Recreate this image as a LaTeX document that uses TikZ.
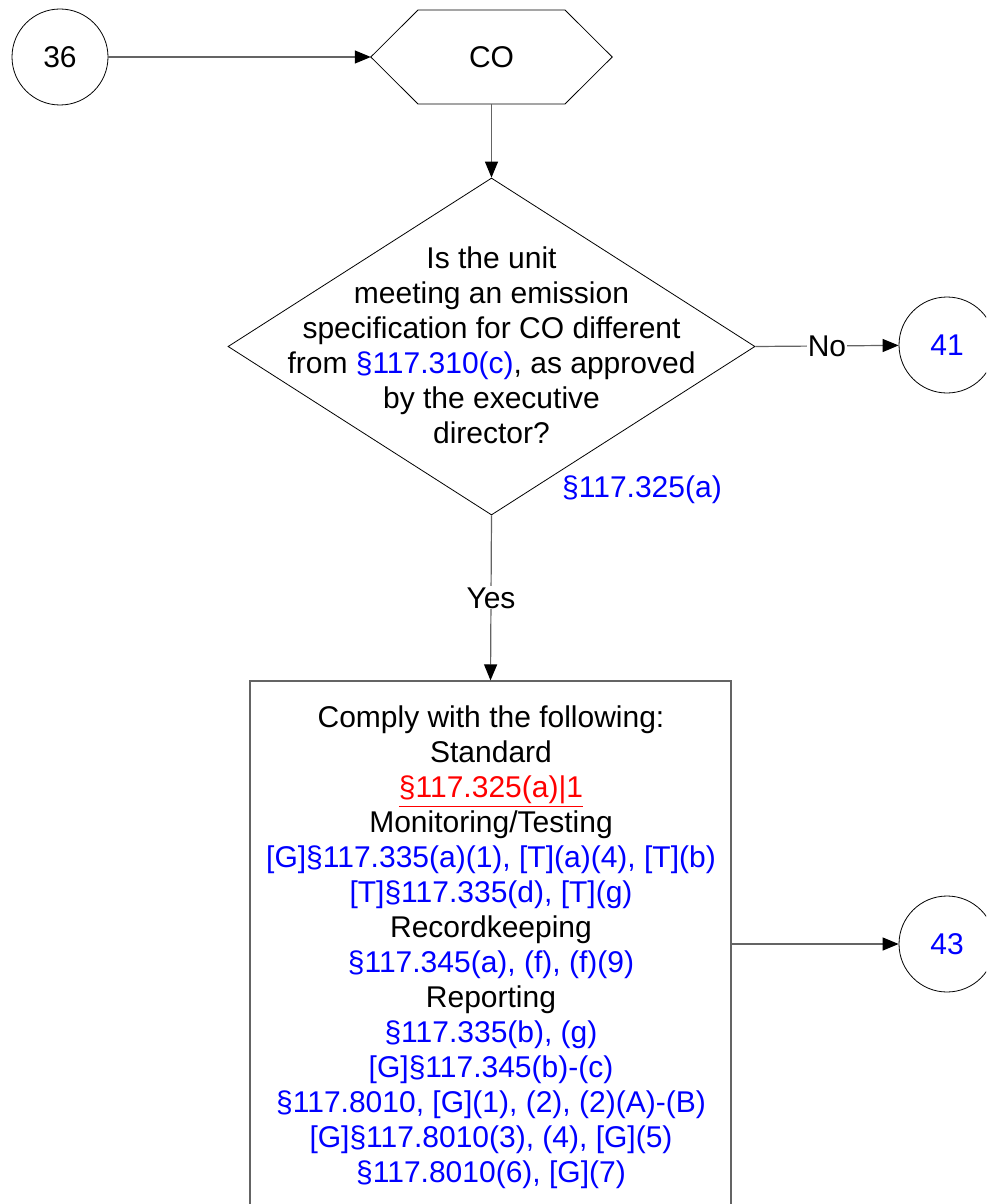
\documentclass[tikz,border=0pt]{standalone}
\usepackage{fontspec}
\setmainfont{Liberation Sans}
\usetikzlibrary{arrows.meta,shapes.geometric}
\definecolor{refblue}{RGB}{0,0,255}
\definecolor{refred}{RGB}{255,0,0}
\definecolor{linegray}{RGB}{100,100,100}
\newcommand{\redul}[1]{{\color{refred}\vtop{\hbox{#1}\kern2pt\hrule height 1.5pt}}}
\begin{document}
\begin{tikzpicture}[x=1pt,y=-1pt,
  every node/.style={font=\fontsize{30}{35}\selectfont, inner sep=0pt},
  conn/.style={draw=linegray, line width=1.2pt},
  arr/.style={conn, -{Triangle[length=16pt,width=13pt,color=black,fill=black]}},
  circ/.style={circle, draw=black, line width=0.8pt, minimum size=96pt},
  blu/.style={text=refblue},
  lbl/.style={fill=white, inner sep=1pt}]
\clip (0,0) rectangle (986,1204);
\fill[white] (0,0) rectangle (986,1204);

% nodes
\node[circ] (c36) at (60,57) {36};
\node[minimum width=241pt, minimum height=94pt] (co) at (491.5,57) {CO};
\draw[line width=0.8pt] (co.west) -- (418,10) -- (565,10) -- (co.east) -- (565,104) -- (418,104) -- cycle;

\node[diamond, draw=black, line width=0.8pt, minimum width=527pt, minimum height=337pt, aspect=1.56] (dec) at (491.5,346.5) {};
\node[align=center] (dtext) at (491.5,345) {Is the unit\\meeting an emission\\specification for CO different\\from \textcolor{refblue}{§117.310(c)}, as approved\\by the executive\\director?};
\node[blu] (ref) at (642,490) {§117.325(a)};

\node[circ, blu] (c41) at (947,345) {41};

\node[draw=linegray, line width=1.2pt, minimum width=481pt, minimum height=560pt] (box) at (490.5,961) {};
\node[align=center] (btext) at (491,947) {Comply with the following:\\Standard\\\redul{§117.325(a)|1}\\Monitoring/Testing\\\textcolor{refblue}{[G]§117.335(a)(1), [T](a)(4), [T](b)}\\\textcolor{refblue}{[T]§117.335(d), [T](g)}\\Recordkeeping\\\textcolor{refblue}{§117.345(a), (f), (f)(9)}\\Reporting\\\textcolor{refblue}{§117.335(b), (g)}\\\textcolor{refblue}{[G]§117.345(b)-(c)}\\\textcolor{refblue}{§117.8010, [G](1), (2), (2)(A)-(B)}\\\textcolor{refblue}{[G]§117.8010(3), (4), [G](5)}\\\textcolor{refblue}{§117.8010(6), [G](7)}};

\node[circ, blu] (c43) at (947,944) {43};

% connectors
\draw[arr] (c36) -- (co.west);
\draw[arr] (co.south) -- (dec.north);
\draw[arr] (dec.east) -- node[lbl] {No} (c41);
\draw[arr] (dec.south) -- node[lbl] {Yes} (box.north);
\draw[arr] (c43 -| box.east) -- (c43);
\end{tikzpicture}
\end{document}
